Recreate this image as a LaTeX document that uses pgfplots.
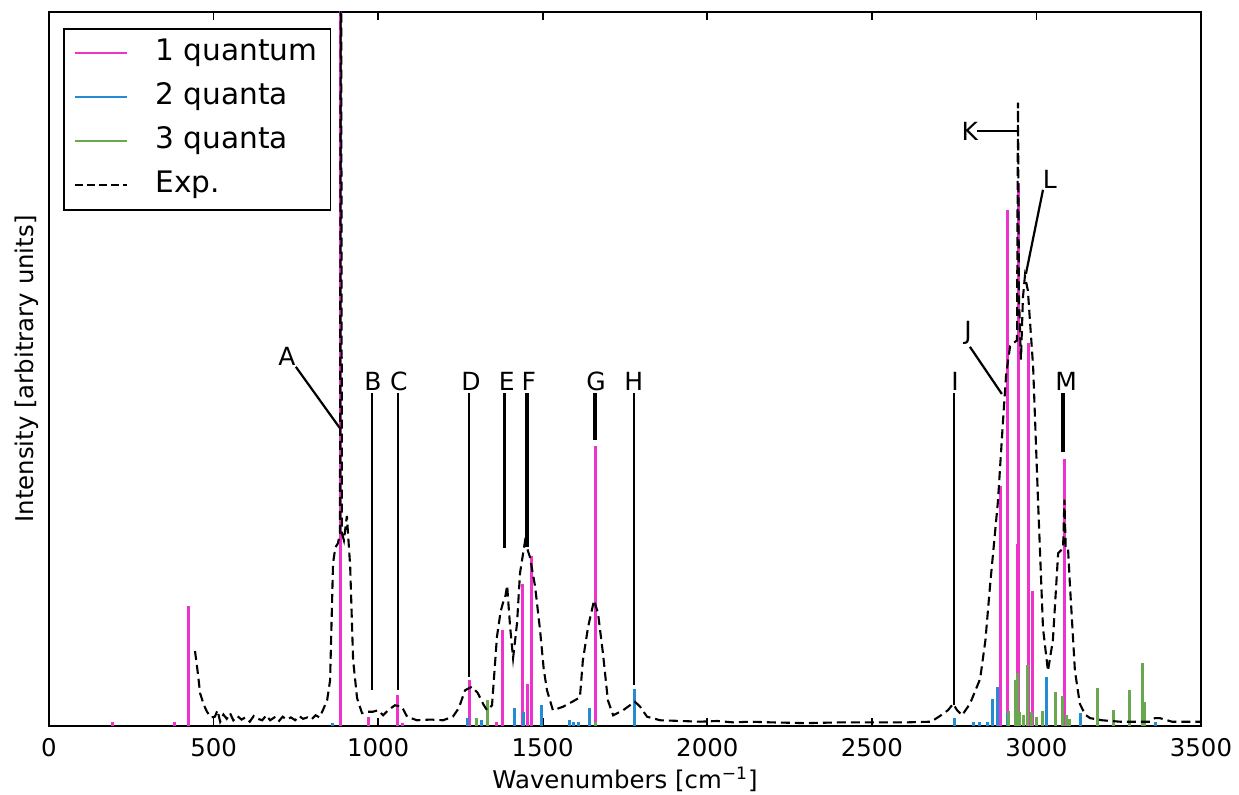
\documentclass[border=0pt]{standalone}
\usepackage{fontspec}
\setmainfont{DejaVu Sans}
\usepackage{pgfplots}
\pgfplotsset{compat=1.18}
\usepackage{pgfplotstable}
\definecolor{pinkc}{RGB}{238,51,204}
\definecolor{bluec}{RGB}{35,140,210}
\definecolor{greenc}{RGB}{106,168,79}

\pgfplotstableread{
x y
443.6 0.105
452 0.075
459 0.046
470 0.030
480 0.020
492 0.012
504 0.013
512 0.022
520 0.006
530 0.016
540 0.010
550 0.018
560 0.008
572 0.014
585 0.009
597 0.012
610 0.006
622 0.014
635 0.010
648 0.008
660 0.015
672 0.008
685 0.012
697 0.006
710 0.013
722 0.009
735 0.012
748 0.008
760 0.014
772 0.010
785 0.012
797 0.009
810 0.015
822 0.012
832 0.022
845 0.036
854 0.064
863 0.228
870 0.250
878 0.256
884 0.270
887 1.300
890 0.270
896 0.260
905 0.294
915 0.224
924 0.092
936 0.039
951 0.018
966 0.020
984 0.020
1000 0.022
1015 0.015
1030 0.022
1051 0.029
1072 0.027
1088 0.013
1118 0.008
1160 0.009
1197 0.008
1227 0.013
1245 0.025
1264 0.050
1285 0.055
1303 0.046
1320 0.030
1331 0.022
1346 0.029
1361 0.125
1372 0.160
1379 0.172
1386 0.180
1392 0.197
1396 0.170
1401 0.139
1410 0.095
1422 0.144
1431 0.214
1446 0.258
1461 0.237
1477 0.195
1492 0.134
1503 0.080
1513 0.050
1531 0.022
1562 0.027
1590 0.034
1613 0.040
1622 0.092
1638 0.139
1656 0.176
1668 0.158
1683 0.102
1698 0.036
1714 0.015
1744 0.022
1765 0.029
1780 0.034
1796 0.027
1817 0.013
1857 0.008
1920 0.007
1978 0.006
2030 0.007
2080 0.005
2130 0.006
2200 0.005
2300 0.004
2400 0.005
2500 0.005
2600 0.005
2680 0.006
2707 0.014
2731 0.022
2747 0.031
2759 0.022
2774 0.015
2798 0.031
2829 0.066
2845 0.120
2859 0.196
2883 0.314
2899 0.431
2908 0.492
2920 0.532
2935 0.538
2941 0.540
2944 0.873
2947 0.600
2953 0.513
2959 0.600
2965 0.630
2974 0.610
2990 0.503
3005 0.314
3020 0.137
3035 0.077
3050 0.120
3066 0.242
3081 0.249
3085 0.317
3089 0.249
3096 0.249
3102 0.196
3117 0.077
3132 0.031
3148 0.016
3163 0.011
3200 0.008
3254 0.006
3300 0.006
3345 0.006
3360 0.011
3375 0.011
3390 0.009
3412 0.006
3450 0.006
3497 0.006
}\expdata

\pgfplotstableread{
x y
194 0.006
380 0.006
425 0.168
887 1.200
972 0.012
1060 0.043
1075 0.004
1279 0.064
1361 0.006
1379 0.134
1413 0.020
1440 0.199
1455 0.059
1467 0.238
1659 0.392
2892 0.336
2911 0.723
2941 0.255
2946 0.760
2977 0.536
2989 0.189
3084 0.374
}\onequant

\pgfplotstableread{
x y
860 0.004
1270 0.011
1315 0.008
1413 0.025
1443 0.020
1495 0.029
1580 0.008
1595 0.006
1610 0.006
1641 0.025
1780 0.052
2751 0.011
2810 0.006
2826 0.006
2850 0.006
2868 0.038
2883 0.055
2913 0.018
3032 0.069
3135 0.018
3362 0.005
}\twoquant

\pgfplotstableread{
x y
1300 0.011
1331 0.036
1660 0.005
2914 0.021
2935 0.064
2944 0.074
2950 0.020
2960 0.015
2974 0.085
2985 0.020
3000 0.012
3017 0.021
3057 0.048
3078 0.042
3090 0.015
3100 0.010
3187 0.053
3233 0.022
3284 0.050
3321 0.088
3327 0.034
}\threequant

\begin{document}
\begin{tikzpicture}
\begin{axis}[
  scale only axis,
  width=576pt, height=357pt,
  xmin=0, xmax=3500, ymin=0, ymax=1,
  xtick={0,500,1000,1500,2000,2500,3000,3500},
  ytick=\empty,
  xtick pos=both, xticklabel pos=lower,
  tick align=inside,
  major tick length=4pt,
  axis line style={line width=1pt},
  every tick/.style={black, line width=0.8pt},
  /pgf/number format/assume math mode=true,
  /pgf/number format/set thousands separator={},
  tick label style={font=\fontsize{12.2}{14}\selectfont},
  xticklabel style={yshift=-2.5pt},
  label style={font=\fontsize{12.2}{14}\selectfont},
  xlabel={Wavenumbers [cm\textsuperscript{\char"2212 1}]},
  ylabel={Intensity [arbitrary units]},
  xlabel style={yshift=1.5pt},
  ylabel style={yshift=1.5pt},
  clip=true,
  legend image code/.code={\draw[#1] (0pt,0pt) -- (26pt,0pt);},
  legend cell align=left,
  legend style={
    at={(axis description cs:0.01215,0.9776)}, anchor=north west,
    draw=black, line width=0.9pt,
    font=\fontsize{14.8}{17}\selectfont,
    inner xsep=5pt, inner ysep=4pt,
    row sep=5.5pt, column sep=12.5pt,
    nodes={inner sep=1.5pt, text height=10.5pt, text depth=3pt},
  },
]
\addplot[ycomb, pinkc, line width=1.5pt, forget plot] table[x=x,y=y] {\onequant};
\addplot[ycomb, bluec, line width=1.5pt, forget plot] table[x=x,y=y] {\twoquant};
\addplot[ycomb, greenc, line width=1.5pt, forget plot] table[x=x,y=y] {\threequant};
\addplot[black, line width=1.05pt, dash pattern=on 4.5pt off 2.5pt, forget plot] table[x=x,y=y] {\expdata};

\addlegendimage{pinkc, line width=0.9pt}
\addlegendentry{1 quantum}
\addlegendimage{bluec, line width=0.9pt}
\addlegendentry{2 quanta}
\addlegendimage{greenc, line width=0.9pt}
\addlegendentry{3 quanta}
\addlegendimage{black, line width=0.9pt, dash pattern=on 4pt off 2pt}
\addlegendentry{Exp.}

% annotations
\begin{scope}[line width=1.1pt, black]
\draw (axis cs:750,0.503) -- (axis cs:884,0.417);
\draw (axis cs:981,0.466) -- (axis cs:981,0.050);
\draw (axis cs:1060,0.466) -- (axis cs:1060,0.050);
\draw (axis cs:1276,0.466) -- (axis cs:1276,0.069);
\draw[line width=1.6pt] (axis cs:1385,0.466) -- (axis cs:1385,0.249);
\draw[line width=1.6pt] (axis cs:1452,0.466) -- (axis cs:1452,0.251);
\draw[line width=1.6pt] (axis cs:1659,0.466) -- (axis cs:1659,0.401);
\draw (axis cs:1777,0.466) -- (axis cs:1777,0.057);
\draw (axis cs:2750,0.466) -- (axis cs:2750,0.029);
\draw (axis cs:2798,0.531) -- (axis cs:2895,0.465);
\draw (axis cs:2820,0.833) -- (axis cs:2944,0.833);
\draw (axis cs:3020,0.751) -- (axis cs:2968,0.633);
\draw[line width=1.6pt] (axis cs:3081,0.466) -- (axis cs:3081,0.384);
\end{scope}
\begin{scope}[every node/.style={font=\fontsize{12.5}{14}\selectfont, inner sep=0pt}]
\node at (axis cs:723,0.517) {A};
\node at (axis cs:984,0.483) {B};
\node at (axis cs:1063,0.483) {C};
\node at (axis cs:1282,0.483) {D};
\node at (axis cs:1391,0.483) {E};
\node at (axis cs:1458,0.483) {F};
\node at (axis cs:1662,0.483) {G};
\node at (axis cs:1777,0.483) {H};
\node at (axis cs:2753,0.483) {I};
\node at (axis cs:2792,0.550) {J};
\node at (axis cs:2798,0.833) {K};
\node at (axis cs:3041,0.766) {L};
\node at (axis cs:3090,0.483) {M};
\end{scope}
\end{axis}
\pgfresetboundingbox
\useasboundingbox (-24.5pt,-34.5pt) rectangle (595pt,363pt);
\end{tikzpicture}
\end{document}
